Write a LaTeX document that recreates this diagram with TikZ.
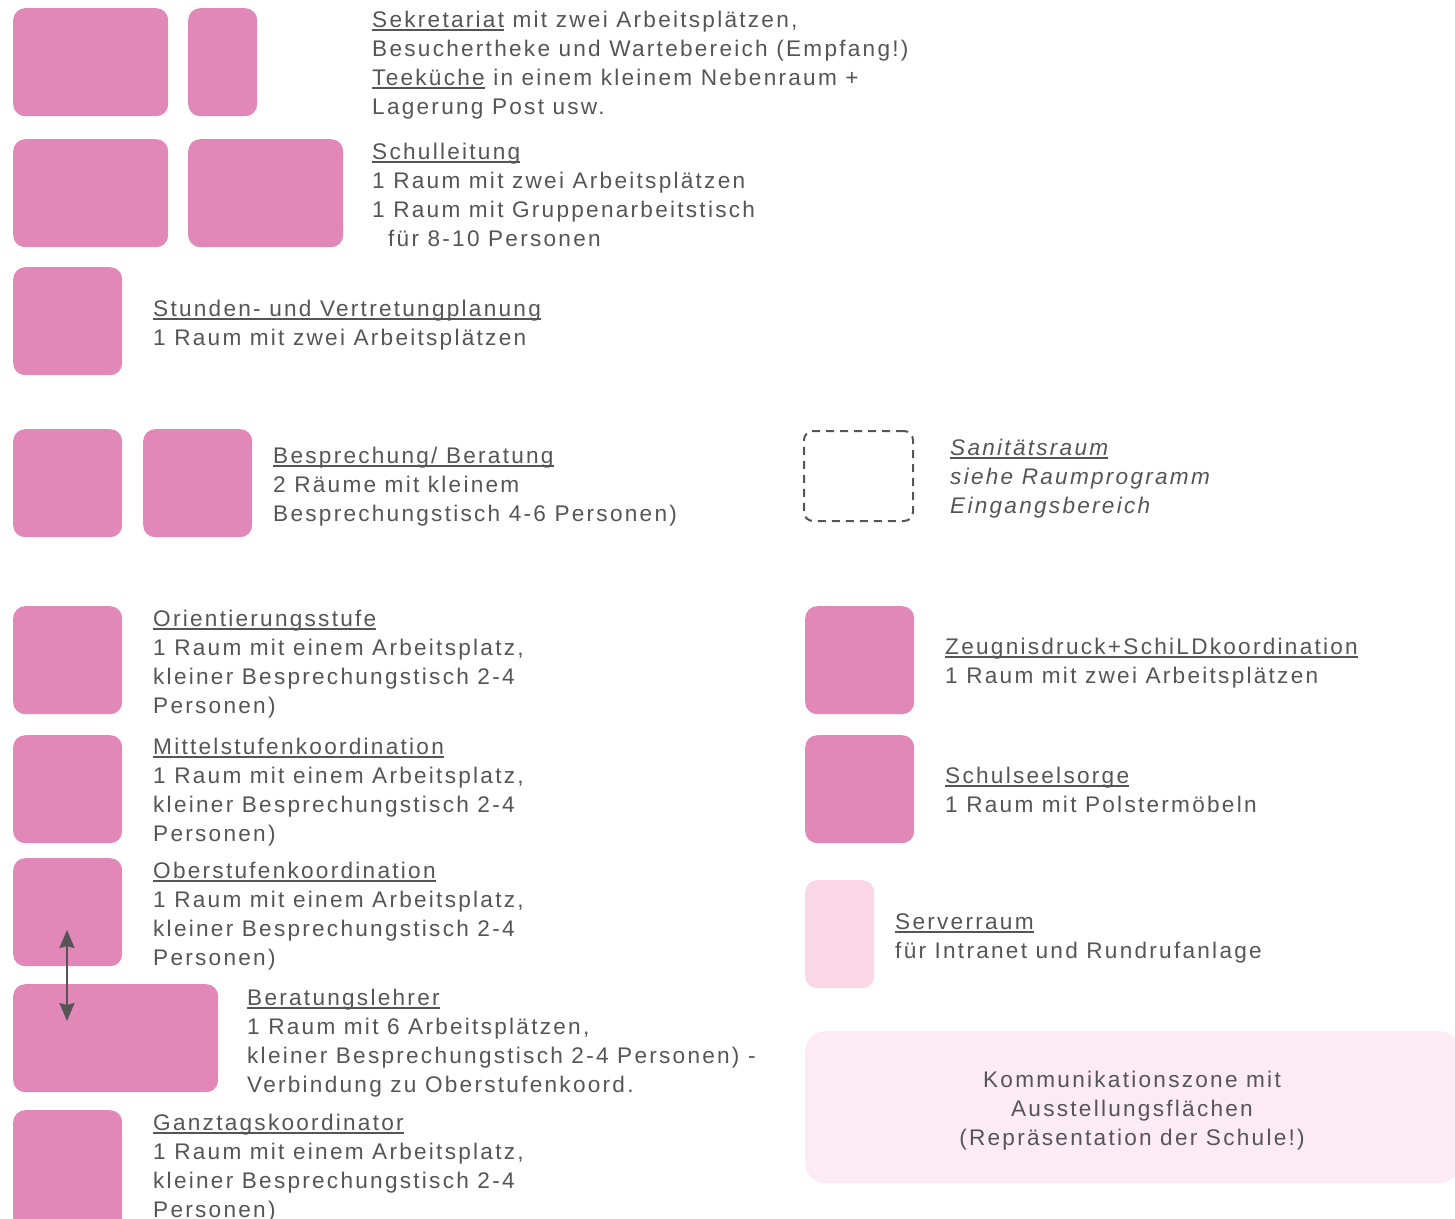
\documentclass[tikz,border=0pt]{standalone}
\usepackage{fontspec}
\setmainfont{Liberation Sans}[LetterSpace=10]
\usetikzlibrary{arrows.meta}
\definecolor{roompink}{HTML}{E188B8}
\definecolor{serverpink}{HTML}{FAD6E6}
\definecolor{zonepink}{HTML}{FDEBF3}
\definecolor{textgray}{HTML}{555555}
\newsavebox{\undlbox}
\newcommand{\undl}[1]{\sbox{\undlbox}{#1}\rlap{\rule[-3.5pt]{\wd\undlbox}{1.5pt}}\usebox{\undlbox}}

\begin{document}
\begin{tikzpicture}[x=1pt, y=-1pt,
  room/.style={fill=roompink, rounded corners=12pt, inner sep=0pt, anchor=north west, minimum height=108pt},
  roomN/.style={room, minimum width=69pt},
  roomS/.style={room, minimum width=109pt},
  roomL/.style={room, minimum width=155pt},
  roomXL/.style={room, minimum width=205pt},
  serverroom/.style={roomN, fill=serverpink},
  dashroom/.style={draw=textgray, line width=2pt, dash pattern=on 8pt off 6pt, rounded corners=9pt, inner sep=0pt, anchor=north west, minimum width=109pt, minimum height=90pt},
  zone/.style={fill=zonepink, rounded corners=20pt, inner sep=0pt, anchor=north west, minimum width=654pt, minimum height=152pt},
  % text blocks sit on the baseline of their last line
  desc/.style={anchor=base west, align=left, inner sep=0pt, text=textgray, font=\fontsize{22.6}{29}\selectfont},
  link/.style={draw=textgray, line width=2.2pt, {Stealth[length=18pt,width=15pt,inset=2pt]}-{Stealth[length=18pt,width=15pt,inset=2pt]}}
]
\useasboundingbox (0,0) rectangle (1455,1218);

% Verwaltung
\node[roomL] (sek) at (13,8) {};
\node[roomN] (tee) at (188,8) {};
\node[desc] (sektxt) at (372,114) {\undl{Sekretariat} mit zwei Arbeitsplätzen,\\Besuchertheke und Wartebereich (Empfang!)\\\undl{Teeküche} in einem kleinem Nebenraum +\\Lagerung Post usw.};

\node[roomL] (sl1) at (13,139) {};
\node[roomL] (sl2) at (188,139) {};
\node[desc] (sltxt) at (372,246) {\undl{Schulleitung}\\1 Raum mit zwei Arbeitsplätzen\\1 Raum mit Gruppenarbeitstisch\\\hspace*{16pt}für 8-10 Personen};

\node[roomS] (stdpl) at (13,267) {};
\node[desc] (stdpltxt) at (153,345) {\undl{Stunden- und Vertretungplanung}\\1 Raum mit zwei Arbeitsplätzen};

\node[roomS] (bes1) at (13,429) {};
\node[roomS] (bes2) at (143,429) {};
\node[desc] (bestxt) at (273,521) {\undl{Besprechung/ Beratung}\\2 Räume mit kleinem\\Besprechungstisch 4-6 Personen)};

\node[dashroom] (sani) at (803,430) {};
\node[desc, font=\fontsize{22.6}{29}\selectfont\itshape] (sanitxt) at (950,513) {\undl{Sanitätsraum}\\siehe Raumprogramm\\Eingangsbereich};

% Koordination
\node[roomS] (orst) at (13,606) {};
\node[desc] (orsttxt) at (153,713) {\undl{Orientierungsstufe}\\1 Raum mit einem Arbeitsplatz,\\kleiner Besprechungstisch 2-4\\Personen)};

\node[roomS] (mist) at (13,735) {};
\node[desc] (misttxt) at (153,841) {\undl{Mittelstufenkoordination}\\1 Raum mit einem Arbeitsplatz,\\kleiner Besprechungstisch 2-4\\Personen)};

\node[roomS] (obst) at (13,858) {};
\node[desc] (obsttxt) at (153,965) {\undl{Oberstufenkoordination}\\1 Raum mit einem Arbeitsplatz,\\kleiner Besprechungstisch 2-4\\Personen)};

\node[roomXL] (berl) at (13,984) {};
\node[desc] (berltxt) at (247,1092) {\undl{Beratungslehrer}\\1 Raum mit 6 Arbeitsplätzen,\\kleiner Besprechungstisch 2-4 Personen) -\\Verbindung zu Oberstufenkoord.};

\coordinate (linktop) at (67,930);
\coordinate (linkbot) at (67,1021);
\draw[link] (linktop) -- (linkbot);

\node[roomS, minimum height=120pt] (gtk) at (13,1110) {};
\node[desc] (gtktxt) at (153,1217) {\undl{Ganztagskoordinator}\\1 Raum mit einem Arbeitsplatz,\\kleiner Besprechungstisch 2-4\\Personen)};

% rechte Spalte
\node[roomS] (zeug) at (805,606) {};
\node[desc] (zeugtxt) at (945,683) {\undl{Zeugnisdruck+SchiLDkoordination}\\1 Raum mit zwei Arbeitsplätzen};

\node[roomS] (seel) at (805,735) {};
\node[desc] (seeltxt) at (945,812) {\undl{Schulseelsorge}\\1 Raum mit Polstermöbeln};

\node[serverroom] (serv) at (805,880) {};
\node[desc] (servtxt) at (895,958) {\undl{Serverraum}\\für Intranet und Rundrufanlage};

\node[zone] (komm) at (805,1031) {};
\node[desc, anchor=base, align=center] (kommtxt) at (1132,1145) {Kommunikationszone mit\\Ausstellungsflächen\\(Repräsentation der Schule!)};
\end{tikzpicture}
\end{document}
